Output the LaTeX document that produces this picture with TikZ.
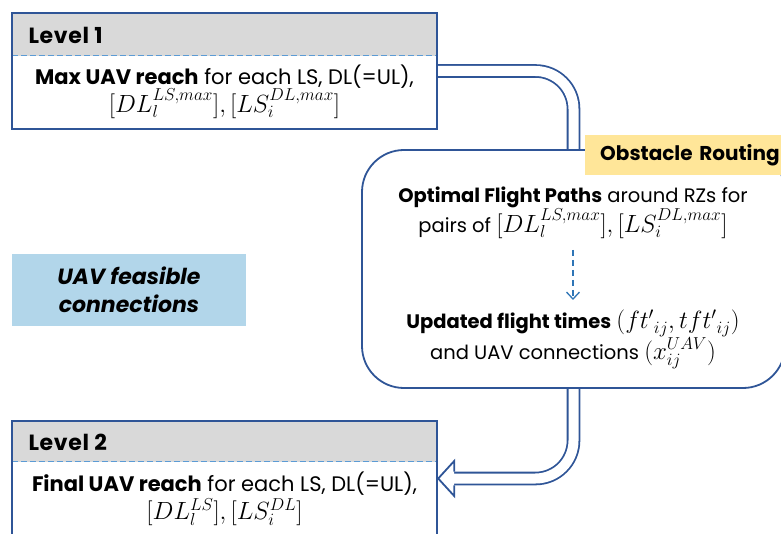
\documentclass[tikz,border=0pt]{standalone}
\usepackage{fontspec}
\setmainfont{Poppins}
\usetikzlibrary{arrows.meta,calc}

\definecolor{frameblue}{RGB}{47,85,151}
\definecolor{dashblue}{RGB}{91,155,213}
\definecolor{arrowblue}{RGB}{46,117,182}
\definecolor{headgray}{RGB}{217,217,217}
\definecolor{notefill}{RGB}{178,214,234}
\definecolor{tagyellow}{RGB}{255,230,153}

% formulas are set a little larger than the surrounding text
\newcommand\eqbig[1]{{\fontsize{23}{25}\selectfont$#1$}}

\begin{document}
\begin{tikzpicture}[x=1pt,y=-1pt,
  frame/.style={draw=frameblue, line width=1.8pt},
  levelbox/.style={fill=white, minimum width=425pt, inner sep=0pt},
  headline/.style={draw=dashblue, line width=1pt, dash pattern=on 6pt off 3pt},
  titletext/.style={anchor=west, font=\bfseries\fontsize{22}{24}\selectfont\addfontfeatures{LetterSpace=3}},
  levelbody/.style={align=center, font=\fontsize{21}{28}\selectfont},
  routebody/.style={align=center, font=\fontsize{19.5}{29}\selectfont},
  dbl/.style={draw=frameblue, line width=1.8pt, double=white, double distance=10pt,
    rounded corners=38pt},
  flow/.style={draw=arrowblue, line width=1.3pt, dash pattern=on 6pt off 4pt,
    -{Straight Barb[length=7pt,width=13pt,line width=1.3pt]}},
]
\useasboundingbox (0,0) rectangle (781,534);
\clip (0,0) rectangle (781,534);

% placeholders so the wide connectors can be routed first
\path (224.5,71) node[levelbox, minimum height=116pt, fill=none] (lvl1) {};
\path (224.5,478.5) node[levelbox, minimum height=115pt, fill=none] (lvl2) {};
\path (573.5,269) node[minimum width=423pt, minimum height=238pt, inner sep=0pt] (route) {};
\coordinate (headbase) at ($(lvl2.east)+(17,0)$);

% hollow double-line connectors
\draw[dbl] (lvl1.east) -| (route.north);
\draw[dbl] (route.south) |- (headbase);

% Level 1
\node[levelbox, minimum height=116pt] at (lvl1) {};
\fill[headgray] (lvl1.north west) rectangle ($(lvl1.north east)+(0,43)$);
\draw[headline] ($(lvl1.north west)+(0,43)$) -- ($(lvl1.north east)+(0,43)$);
\draw[frame] (lvl1.north west) rectangle (lvl1.south east);
\node[titletext] (lvl1title) at (25,35) {Level 1};
\node[levelbody] (lvl1body) at (224.5,92)
  {\textbf{Max UAV reach} for each LS, DL(=UL),\\ \eqbig{[DL_l^{LS,max}],[LS_i^{DL,max}]}};

% Level 2
\node[levelbox, minimum height=115pt] at (lvl2) {};
\fill[headgray] (lvl2.north west) rectangle ($(lvl2.north east)+(0,41)$);
\draw[headline] ($(lvl2.north west)+(0,41)$) -- ($(lvl2.north east)+(0,41)$);
\draw[frame] (lvl2.north west) rectangle (lvl2.south east);
\node[titletext] (lvl2title) at (25,442) {Level 2};
\node[levelbody] (lvl2body) at (224.5,499)
  {\textbf{Final UAV reach} for each LS, DL(=UL),\\ \eqbig{[DL_l^{LS}],[LS_i^{DL}]}};

% hollow arrow head into Level 2
\filldraw[fill=white, draw=frameblue, line width=1.8pt, line join=miter]
  ($(headbase)+(0,-6.9)$) -- ($(headbase)+(0,-17.5)$) -- ($(lvl2.east)+(1,0)$)
  -- ($(headbase)+(0,17.5)$) -- ($(headbase)+(0,6.9)$);

% Obstacle routing stage
\node[frame, fill=white, rounded corners=42pt, minimum width=423pt,
  minimum height=238pt, inner sep=0pt] at (route) {};
\node[fill=tagyellow, anchor=north west, minimum height=40pt, text width=185pt,
  inner xsep=15pt, align=left, font=\bfseries\fontsize{20}{22}\selectfont]
  (tag) at (585,135) {Obstacle Routing};
\node[routebody] (paths) at (573,213)
  {\textbf{Optimal Flight Paths} around RZs for\\ pairs of \eqbig{[DL_l^{LS,max}],[LS_i^{DL,max}]}};
\node[routebody] (times) at (573,339)
  {\textbf{Updated flight times} \eqbig{({ft'}_{ij},{tft'}_{ij})}\\ and UAV connections \eqbig{(x_{ij}^{UAV})}};
\draw[flow] (573,250) -- (573,300);

% side note
\node[fill=notefill, minimum width=234pt, minimum height=72pt, align=center,
  font=\bfseries\itshape\fontsize{22}{28}\selectfont] (note) at (129,290)
  {UAV feasible\\ connections};
\end{tikzpicture}
\end{document}
